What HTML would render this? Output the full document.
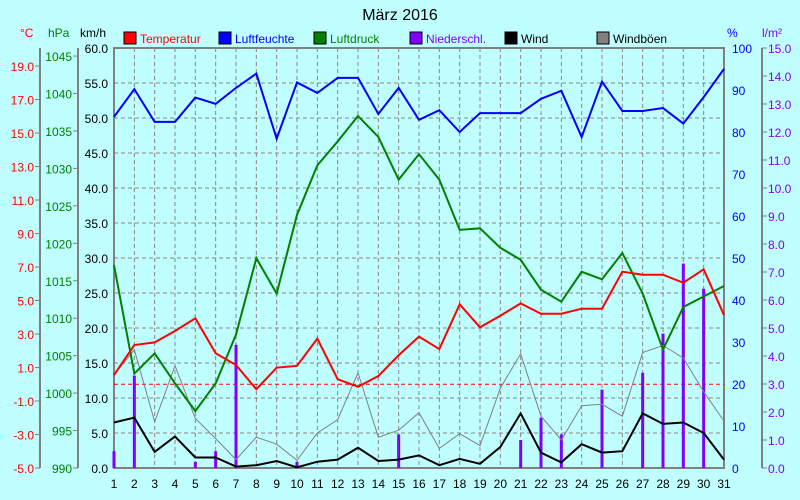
<!DOCTYPE html>
<html><head><meta charset="utf-8">
<style>
html,body{margin:0;padding:0;background:#c0ffff;}
svg{display:block;font-family:"Liberation Sans",sans-serif;}
</style></head>
<body>
<svg id="chart" width="800" height="500" viewBox="0 0 800 500">
<rect x="0" y="0" width="800" height="500" fill="#c0ffff"/>
<text x="400" y="20" font-size="16" text-anchor="middle" fill="#000">März 2016</text>
<g id="legend"></g>
<g id="axes"></g>
<g id="grid"></g>
<g id="series"></g>
</svg>
<script>
const days = [1,2,3,4,5,6,7,8,9,10,11,12,13,14,15,16,17,18,19,20,21,22,23,24,25,26,27,28,29,30,31];
const temperature = [0.55,2.34,2.5,3.18,3.94,1.85,1.15,-0.3,0.99,1.1,2.72,0.3,-0.15,0.49,1.73,2.84,2.1,4.77,3.4,4.09,4.83,4.21,4.21,4.51,4.51,6.72,6.54,6.54,6.06,6.86,4.13];
const humidity = [83.6,90.2,82.4,82.4,88.2,86.7,90.5,93.9,78.4,91.8,89.3,92.9,92.9,84.3,90.5,82.9,85.2,80,84.5,84.5,84.5,87.9,89.8,78.8,92,85,85,85.7,82,88.3,95];
const pressure = [1017.1,1002.6,1005.3,1001.3,997.6,1001.3,1007.8,1018,1013.3,1023.8,1030.4,1033.6,1037,1034.2,1028.5,1031.9,1028.5,1021.8,1022,1019.4,1017.8,1013.8,1012.2,1016.2,1015.2,1018.7,1013.3,1005.8,1011.5,1012.9,1014.3];
const precip = [0.6,3.3,0,0,0.22,0.6,4.4,0,0,0.22,0,0,0,0,1.2,0,0,0,0,0,1.0,1.8,1.2,0,2.8,0,3.4,4.8,7.3,6.4,0];
const wind = [6.5,7.2,2.3,4.5,1.5,1.5,0.2,0.4,1.0,0.1,0.9,1.2,2.9,1.0,1.2,1.8,0.4,1.3,0.6,3.0,7.8,2.2,0.8,3.4,2.2,2.4,7.8,6.3,6.5,5.0,1.2];
const gusts = [13.3,16.9,6.6,14.6,7.1,4.2,1.2,4.4,3.4,1.1,5.0,6.9,13.6,4.4,5.4,7.9,2.8,4.9,3.2,11.4,16.3,7.4,4.0,8.9,9.1,7.4,16.5,17.5,15.7,10.9,6.7];
const kmhTicks = ["60.0","55.0","50.0","45.0","40.0","35.0","30.0","25.0","20.0","15.0","10.0","5.0","0.0"];
const tempTicks = ["19.0","17.0","15.0","13.0","11.0","9.0","7.0","5.0","3.0","1.0","-1.0","-3.0","-5.0"];
const hpaTicks = ["1045","1040","1035","1030","1025","1020","1015","1010","1005","1000","995","990"];
const humTicks = ["100","90","80","70","60","50","40","30","20","10","0"];
const precTicks = ["15.0","14.0","13.0","12.0","11.0","10.0","9.0","8.0","7.0","6.0","5.0","4.0","3.0","2.0","1.0","0.0"];

const NS="http://www.w3.org/2000/svg";
const L=114,R=724,T=48,B=468;
const xOf=d=>L+(d-1)*(R-L)/30;
const yKmh=v=>B-v*(B-T)/60;
const yTemp=v=>B-(v+5)*16.75;
const yHpa=v=>B-(v-990)*7.49;
const yHum=v=>B-v*(B-T)/100;
const yPrec=v=>B-v*(B-T)/15;
function el(tag,attrs,parent,txt){const e=document.createElementNS(NS,tag);for(const k in attrs)e.setAttribute(k,attrs[k]);if(txt!==undefined)e.textContent=txt;parent.appendChild(e);return e;}
const gAx=document.getElementById('axes'),gGrid=document.getElementById('grid'),gS=document.getElementById('series'),gLeg=document.getElementById('legend');

// grid
kmhTicks.forEach(t=>{const y=yKmh(parseFloat(t));if(y>T+1&&y<B-1){const e=el('line',{x1:L,x2:R,y1:y,y2:y,stroke:'#908080','stroke-dasharray':'4,3'},gGrid);

}});
days.forEach(d=>{const x=xOf(d);if(d>1&&d<31){const e=el('line',{x1:x,x2:x,y1:T,y2:B,stroke:'#908080','stroke-dasharray':'4,3'},gGrid);

}});
// zero line
{const e=el('line',{x1:L,x2:R,y1:yTemp(0),y2:yTemp(0),stroke:'#ff0000','stroke-dasharray':'4,3'},gGrid);

}
// frame
{const e=el('rect',{x:L,y:T,width:R-L,height:B-T,fill:'none',stroke:'#808080','stroke-width':2},gAx);

}
// axes lines
[[40,'temp-axis'],[78,'hpa-axis'],[762,'precip-axis']].forEach(a=>{const e=el('line',{x1:a[0],x2:a[0],y1:T,y2:B,stroke:'#808080','stroke-width':2},gAx);

});
// tick labels
kmhTicks.forEach(t=>{const y=yKmh(parseFloat(t));const e=el('text',{x:108,y:y+5,'font-size':12,'text-anchor':'end',fill:'#000'},gAx,t);

});
tempTicks.forEach(t=>{const y=yTemp(parseFloat(t));el('line',{x1:35,x2:40,y1:y,y2:y,stroke:'#808080'},gAx);const e=el('text',{x:34,y:y+5,'font-size':12,'text-anchor':'end',fill:'#ff0000'},gAx,t);

});
hpaTicks.forEach(t=>{const y=yHpa(parseFloat(t));el('line',{x1:73,x2:78,y1:y,y2:y,stroke:'#808080'},gAx);const e=el('text',{x:72,y:y+5,'font-size':12,'text-anchor':'end',fill:'#008000'},gAx,t);

});
humTicks.forEach(t=>{const y=yHum(parseFloat(t));const e=el('text',{x:732,y:y+5,'font-size':12,fill:'#0000ff'},gAx,t);

});
precTicks.forEach(t=>{const y=yPrec(parseFloat(t));el('line',{x1:762,x2:767,y1:y,y2:y,stroke:'#808080'},gAx);const e=el('text',{x:768,y:y+5,'font-size':12,fill:'#8000ff'},gAx,t);

});
days.forEach(d=>{const e=el('text',{x:xOf(d),y:488,'font-size':12,'text-anchor':'middle',fill:'#000'},gAx,String(d));

});
// unit headers
[[20,'°C','#ff0000','temp-unit'],[48,'hPa','#008000','hpa-unit'],[80,'km/h','#000','kmh-unit'],[727,'%','#0000ff','humidity-unit'],[762,'l/m²','#8000ff','precip-unit']].forEach(u=>{const e=el('text',{x:u[0],y:37,'font-size':12,fill:u[2]},gAx,u[1]);

});
// legend
[[124,'Temperatur','#ff0000','#ff0000'],[219,'Luftfeuchte','#0000ff','#0000ff'],[314,'Luftdruck','#008000','#008000'],[410,'Niederschl.','#8000ff','#8000ff'],[505,'Wind','#000000','#000'],[597,'Windböen','#808080','#000']].forEach(l=>{
const g=el('g',{},gLeg);


el('rect',{x:l[0],y:32,width:12,height:12,fill:l[2],stroke:'#000'},g);
el('text',{x:l[0]+16,y:43,'font-size':12,fill:l[3]},g,l[1]);});
// precip bars
precip.forEach((v,i)=>{if(v>0){const x=xOf(days[i]);const e=el('rect',{x:x-1.5,y:yPrec(v),width:3,height:B-yPrec(v),fill:'#8000ff'},gS);

}});
function line(arr,fy,color,w,name){const pts=arr.map((v,i)=>xOf(days[i])+','+fy(v)).join(' ');const e=el('polyline',{points:pts,fill:'none',stroke:color,'stroke-width':w,'stroke-linejoin':'miter'},gS);

}
line(gusts,yKmh,'#808080',1,'gusts-line');
line(wind,yKmh,'#000000',2,'wind-line');
line(pressure,yHpa,'#008000',2,'pressure-line');
line(humidity,yHum,'#0000ff',2,'humidity-line');
line(temperature,yTemp,'#ff0000',2,'temperature-line');
</script>
</body></html>
